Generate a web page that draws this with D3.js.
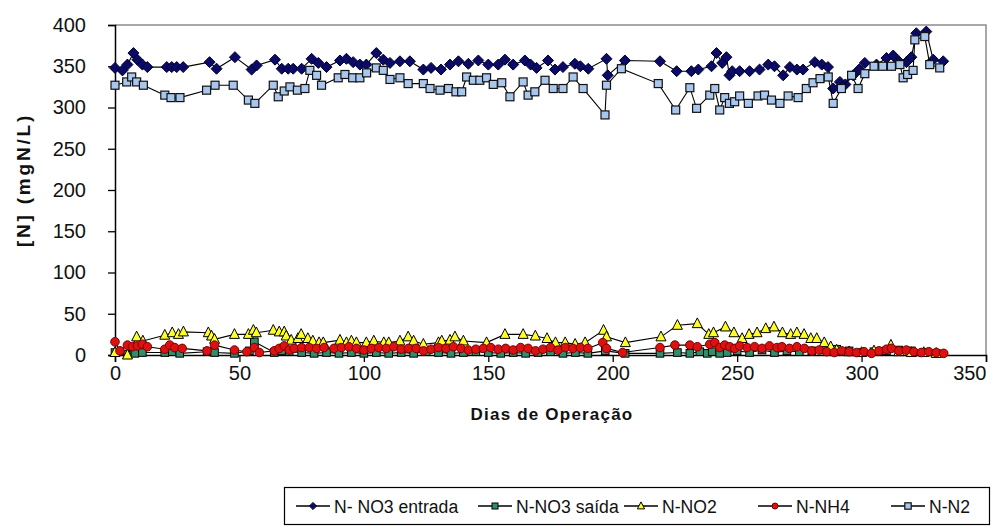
<!DOCTYPE html>
<html><head><meta charset="utf-8">
<script src="https://cdn.jsdelivr.net/npm/d3@7"></script>
<style>
html,body{margin:0;padding:0;background:#fff;}
svg{display:block;font-family:"Liberation Sans",Arial,sans-serif;}
</style></head>
<body>
<svg id="c" width="1007" height="528"></svg>
<script>
// ---------- DATA ----------
const seriesNames = ["N- NO3 entrada","N-NO3 saída","N-NO2","N-NH4","N-N2"];
const xTicks = [0,50,100,150,200,250,300,350];
const yTicks = [0,50,100,150,200,250,300,350,400];

const no3EntradaDays = [0,3,5,7.4,9,11,13,20.8,22.8,24.8,27.4,38,40.8,48.2,54.9,56.9,64.3,67,69.6,71.6,75,79,81.7,85,90.4,93,95.7,98.4,101,105,107.8,110.5,114.5,118.5,123.9,127,131,134.6,138,142,146,150,154,156.7,160,164.7,167,169.4,174,176.8,180,184.8,187,190.2,197.5,198,204.9,219,225.7,231.6,234.4,239.7,241.7,244,245.7,246.9,248,251,255,259,262.5,265,268.5,271.2,274,276.5,281.2,284,286.5,288.6,291.3,293.5,296.6,299,301.3,306,310,312.7,315,318,320,322,326,328.8,332.8];
const no3EntradaVals = [348,345,352,366,358,352,349,349,349,349,349,355,347,361,346,351,358,347,347,347,347,359,354,349,357,359,355,352,352,366,358,354,356,356,346,348,346,352,356,353,357,352,352,358,352,357,352,348,357,346,349,353,350,347,359,339,357,356,344,344,346,350,366,354,361,339,344,344,344,346,352,350,339,349,346,346,355,352,349,323,331,328,339,346,354,352,360,363,356,355,361,390,392,358,356];

const no3SaidaDays = [0,5,8,11,20,23,26,37,40,48,54,56,64,67,70,75,80,85,90,95,100,105,110,115,120,125,130,135,140,145,150,155,160,165,170,175,180,185,190,197,205,219,226,231,235,238,240,243,246,250,255,260,265,270,275,280,285,290,295,300,305,310,315,320,325,330];
const no3SaidaVals = [3,1,2,3,3,4,2,4,3,2,5,16,3,5,4,3,2,3,2,3,2,3,2,3,2,4,3,2,3,4,3,2,3,2,3,4,2,3,2,5,2,2,3,2,4,2,4,2,3,5,3,6,3,5,4,5,6,7,5,3,4,5,6,5,3,2];

const no2Days = [0,5,8.7,11.2,20,23,25.5,27.5,37.5,38.8,40,48,53.6,55.6,56.8,63.6,66,68,68.8,70.8,73.5,74.8,77.5,79.5,82,83.7,90.4,93,95,97,101,104,108,110,114.5,117.8,120,123.9,130,131.3,134.6,136.6,140,149.3,156.7,164,168.9,173.6,177,180.9,184.9,188.9,196.3,197.5,205.1,219.4,226,234,238.6,240.5,245.3,248.7,252,254.8,258,261.5,264.8,268.2,271.5,274,276.9,279.6,282,285,287.6,290,295,300,305,311.8,315,320,325,330];
const no2Vals = [3,0,22,17,24,27,25,28,27,23,19,25,25,30,27,30,28,28,23,18,20,25,20,17,15,15,18,15,17,15,15,17,15,15,17,22,17,13,15,17,18,22,17,15,25,25,23,20,15,15,13,15,30,22,15,22,36,38,25,27,34,27,20,25,27,32,34,27,25,27,25,20,20,15,10,6,4,3,5,12,4,3,3,2];

const nh4Days = [0,2,5,7,9,11,13,20,22,24,27,37,40,48,53,56,58,64,66,68,70,72,75,78,81,84,88,91,94,97,100,103,106,109,112,115,118,121,124,127,130,133,136,139,142,145,148,151,154,157,160,163,166,169,172,175,178,181,184,187,190,196,197.5,204,219,225,231,234,239,241,243,245,247,249,251,254,257,260,263,266,268,271,274,277,280,283,286,289,292,295,298,301,304,307,310,312,315,318,321,324,327,330,333];
const nh4Vals = [16,5,12,10,11,13,10,7,12,9,8,5,12,6,4,9,3,5,8,11,6,8,9,9,8,9,8,9,10,8,6,8,9,8,10,7,8,8,5,7,9,8,10,8,6,7,8,9,7,8,6,9,8,5,7,9,6,9,8,9,8,15,8,3,9,12,12,10,13,15,9,12,10,8,11,9,10,8,11,9,10,8,10,8,5,6,4,3,5,4,3,4,2,5,7,8,5,6,4,3,4,3,2];

const n2Days = [0,4.7,6.7,8.7,11.4,20,22.5,26.1,36.8,40.2,47.5,53.6,56.2,63.6,65.6,68,70.3,73.3,76.3,78.3,81,83,89.7,92.4,95.5,98.4,101.1,105,107.8,110.5,114.5,117.8,123.9,126.6,130.6,134,137,139.3,141.3,144,146.6,149.3,152,155.4,158.7,164,166,168.7,172.8,176.1,180,184.1,188.1,196.9,197.5,203.5,218.3,225.3,231,233.7,239,241,243,245,246.9,249,251,254.5,258.4,261,263.8,267.2,270.5,274.5,277.8,280.5,283.3,286.6,288.6,291.9,296,298.6,301.3,305,308.5,312,315.4,316.7,318.5,320.7,321.4,325.4,327.4,331.4];
const n2Vals = [327,331,337,331,327,315,312,312,321,327,327,309,305,327,313,320,325,321,323,345,339,327,336,340,336,336,342,348,345,334,336,329,329,323,321,323,319,319,337,333,333,336,328,330,313,331,315,319,333,323,323,337,323,291,327,347,329,297,324,299,315,323,297,312,305,307,314,305,314,315,309,305,314,312,323,330,335,337,305,323,339,323,341,350,350,350,352,336,340,345,382,386,352,348];

// ---------- LAYOUT ----------
const svg = d3.select("#c");
const X0 = 115, X1 = 986, Y0 = 355, Y1 = 25;
const x = d3.scaleLinear().domain([0,350]).range([X0,X1]);
const y = d3.scaleLinear().domain([0,400]).range([Y0,Y1]);

// frame (top/right)
svg.append("path").attr("d",`M${X0},${Y1}H${X1}V${Y0}`).attr("fill","none").attr("stroke","#8c8c8c").attr("stroke-width",1.5);

// axes
const yAxis = d3.axisLeft(y).tickValues(yTicks).tickSize(7).tickPadding(22).tickFormat(d3.format("d"));
const gy = svg.append("g").attr("transform",`translate(${X0},0)`).call(yAxis);
const xAxis = d3.axisBottom(x).tickValues(xTicks).tickSize(7).tickPadding(4).tickFormat(d3.format("d"));
const gx = svg.append("g").attr("transform",`translate(0,${Y0})`).call(xAxis);
[gx,gy].forEach(g=>{
  g.select(".domain").attr("stroke","#000").attr("stroke-width",1.5);
  g.selectAll(".tick line").attr("stroke","#000").attr("stroke-width",1.3);
  g.selectAll("text").attr("font-family","Liberation Sans, Arial, sans-serif").attr("font-size",20).attr("fill","#111");
});
gx.selectAll(".tick text").filter(d=>d===350).attr("text-anchor","end").attr("dx",0);

// axis titles
svg.append("text").attr("x",552).attr("y",420).attr("text-anchor","middle")
  .attr("font-weight","bold").attr("font-size",17).attr("letter-spacing",1.2).attr("fill","#111").text("Dias de Operação");
svg.append("text").attr("transform","translate(30,180) rotate(-90)").attr("text-anchor","middle")
  .attr("font-weight","bold").attr("font-size",19).attr("letter-spacing",2.8).attr("fill","#111").text("[N] (mgN/L)");

// marker drawers
const markers = {
  diamond: (g, s)=> g.append("path").attr("d",`M0,${-s}L${s},0L0,${s}L${-s},0Z`).attr("fill","#0b0b66").attr("stroke","#000033").attr("stroke-width",1),
  greenSq: (g, s)=> g.append("rect").attr("x",-s).attr("y",-s).attr("width",2*s).attr("height",2*s).attr("fill","#2f8f6a").attr("stroke","#000").attr("stroke-width",1),
  tri: (g, s)=> g.append("path").attr("d",`M0,${-s*1.15}L${s},${s*0.8}L${-s},${s*0.8}Z`).attr("fill","#ffff22").attr("stroke","#000").attr("stroke-width",1),
  red: (g, s)=> g.append("circle").attr("r",s).attr("fill","#dd1111").attr("stroke","#7a0000").attr("stroke-width",1),
  blueSq: (g, s)=> g.append("rect").attr("x",-s).attr("y",-s).attr("width",2*s).attr("height",2*s).attr("fill","#a9c6ec").attr("stroke","#111").attr("stroke-width",1.2)
};

const series = [
  {name:seriesNames[0], days:no3EntradaDays, vals:no3EntradaVals, m:"diamond", s:5.5},
  {name:seriesNames[1], days:no3SaidaDays, vals:no3SaidaVals, m:"greenSq", s:3.8},
  {name:seriesNames[2], days:no2Days, vals:no2Vals, m:"tri", s:5},
  {name:seriesNames[3], days:nh4Days, vals:nh4Vals, m:"red", s:4.3},
  {name:seriesNames[4], days:n2Days, vals:n2Vals, m:"blueSq", s:4}
];

const line = d3.line().x(d=>x(d[0])).y(d=>y(d[1]));
series.forEach(sr=>{
  const pts = sr.days.map((d,i)=>[d, sr.vals[i]]);
  const g = svg.append("g");
  g.append("path").attr("d",line(pts)).attr("fill","none").attr("stroke","#000").attr("stroke-width",1.1);
  pts.forEach(p=>{
    const mg = g.append("g").attr("transform",`translate(${x(p[0])},${y(p[1])})`);
    markers[sr.m](mg, sr.s);
  });
});

// legend
const lg = svg.append("g");
lg.append("rect").attr("x",284.5).attr("y",487.5).attr("width",705).attr("height",37).attr("fill","#fff").attr("stroke","#000").attr("stroke-width",1.2);
const legX = [296,478,624,758,891];
const legSize = [3.6,3,3.6,3,3.2];
series.forEach((sr,i)=>{
  const g = lg.append("g").attr("transform",`translate(${legX[i]},506)`);
  g.append("line").attr("x1",0).attr("x2",34).attr("stroke","#000").attr("stroke-width",1.3);
  const mg = g.append("g").attr("transform","translate(17,0)");
  markers[sr.m](mg, legSize[i]);
  g.append("text").attr("x",38).attr("y",7).attr("font-size",17.6).attr("fill","#111").text(sr.name);
});
</script>
</body></html>
